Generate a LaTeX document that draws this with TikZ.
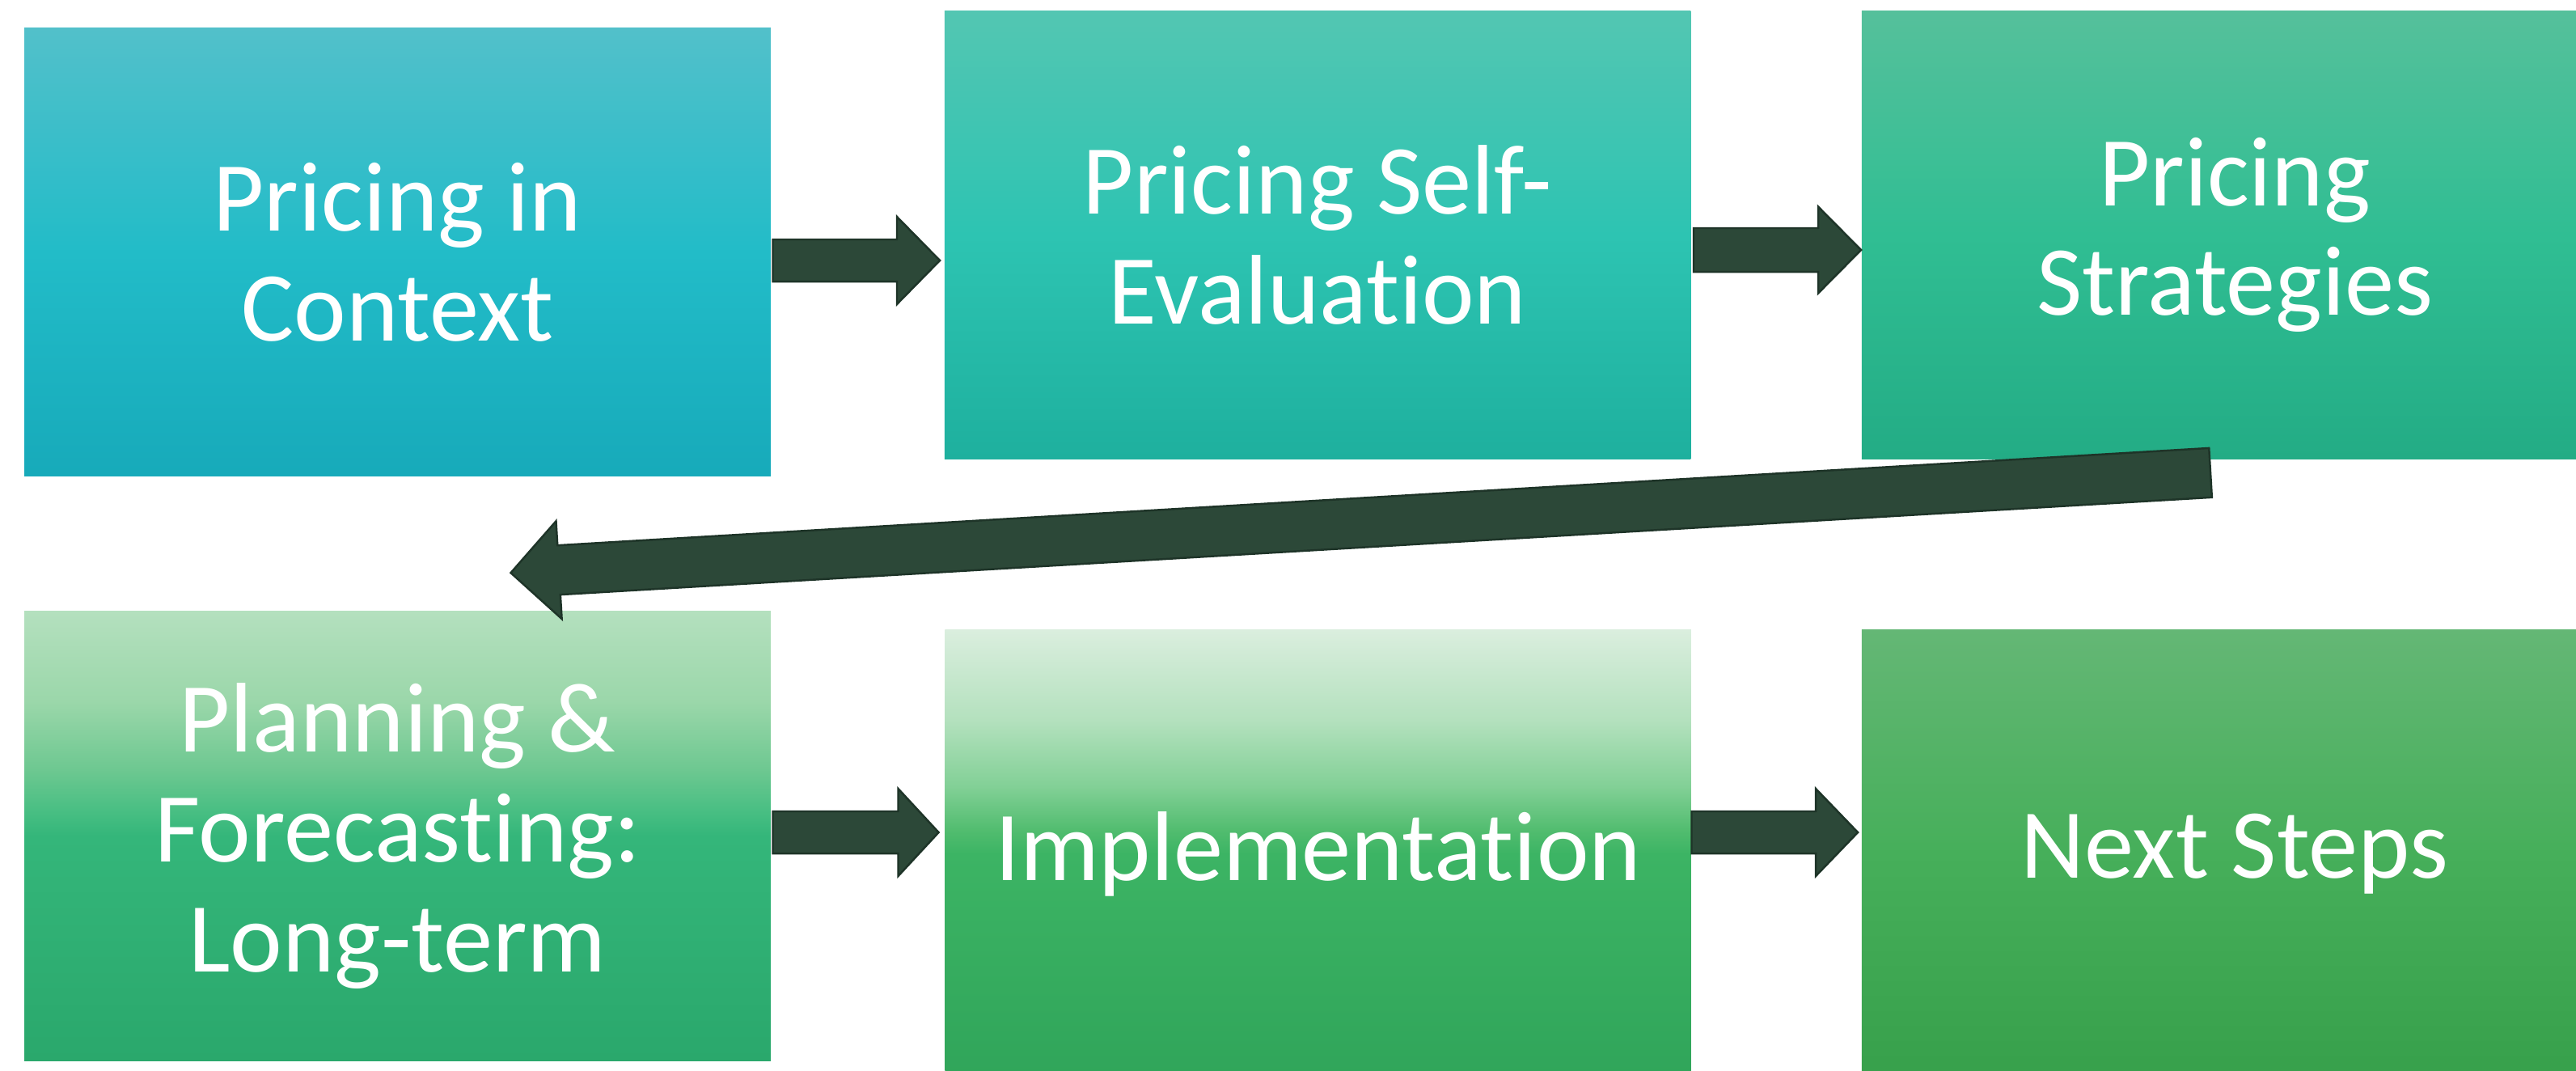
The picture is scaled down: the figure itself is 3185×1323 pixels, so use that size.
\documentclass[tikz,border=0pt]{standalone}
\usepackage{fontspec}
\setmainfont{Carlito}[Ligatures=NoCommon]
\usetikzlibrary{calc}

% box colours (top / middle / bottom)
\definecolor{c1t}{RGB}{82,192,202}\definecolor{c1m}{RGB}{34,188,200}\definecolor{c1b}{RGB}{23,170,186}
\definecolor{c2t}{RGB}{83,198,178}\definecolor{c2m}{RGB}{45,196,178}\definecolor{c2b}{RGB}{30,176,158}
\definecolor{c3t}{RGB}{85,192,155}\definecolor{c3m}{RGB}{48,190,147}\definecolor{c3b}{RGB}{35,172,133}
\definecolor{c4t}{RGB}{180,224,190}\definecolor{c4a}{RGB}{155,215,170}\definecolor{c4c}{RGB}{110,200,145}
\definecolor{c4d}{RGB}{70,190,130}\definecolor{c4m}{RGB}{52,182,122}\definecolor{c4b}{RGB}{42,168,108}
\definecolor{c5t}{RGB}{218,238,222}\definecolor{c5a}{RGB}{180,225,190}\definecolor{c5c}{RGB}{130,208,150}
\definecolor{c5d}{RGB}{80,188,110}\definecolor{c5m}{RGB}{60,180,100}\definecolor{c5b}{RGB}{48,165,90}
\definecolor{c6t}{RGB}{100,183,117}\definecolor{c6m}{RGB}{70,175,90}\definecolor{c6b}{RGB}{55,160,75}
\definecolor{arrowfill}{RGB}{44,72,56}
\definecolor{arrowline}{RGB}{30,52,40}

\pgfdeclareverticalshading{sh1}{100bp}{color(0bp)=(c1b); color(25bp)=(c1b); color(50bp)=(c1m); color(75bp)=(c1t); color(100bp)=(c1t)}
\pgfdeclareverticalshading{sh2}{100bp}{color(0bp)=(c2b); color(25bp)=(c2b); color(50bp)=(c2m); color(75bp)=(c2t); color(100bp)=(c2t)}
\pgfdeclareverticalshading{sh3}{100bp}{color(0bp)=(c3b); color(25bp)=(c3b); color(50bp)=(c3m); color(75bp)=(c3t); color(100bp)=(c3t)}
\pgfdeclareverticalshading{sh4}{100bp}{color(0bp)=(c4b); color(25bp)=(c4b); color(50bp)=(c4m); color(52.5bp)=(c4d); color(57.5bp)=(c4c); color(65bp)=(c4a); color(75bp)=(c4t); color(100bp)=(c4t)}
\pgfdeclareverticalshading{sh5}{100bp}{color(0bp)=(c5b); color(25bp)=(c5b); color(50bp)=(c5m); color(52.5bp)=(c5d); color(57.5bp)=(c5c); color(65bp)=(c5a); color(75bp)=(c5t); color(100bp)=(c5t)}
\pgfdeclareverticalshading{sh6}{100bp}{color(0bp)=(c6b); color(25bp)=(c6b); color(50bp)=(c6m); color(75bp)=(c6t); color(100bp)=(c6t)}

% block arrow: #1 tail, #2 tip, #3 shaft half width, #4 head half width, #5 head length
\newcommand\blockarrow[5]{%
  \coordinate (ba-h) at ($(#2)!#5!(#1)$);
  \draw[arrowshape] ($(#1)!#3!90:(#2)$) -- ($(ba-h)!#3!90:(#2)$) -- ($(ba-h)!#4!90:(#2)$)
    -- (#2) -- ($(ba-h)!#4!-90:(#2)$) -- ($(ba-h)!#3!-90:(#2)$) -- ($(#1)!#3!-90:(#2)$) -- cycle;
}

\begin{document}
\begin{tikzpicture}[x=0.01cm,y=-0.01cm,
  stage/.style={rectangle, inner sep=0pt, minimum width=9.22cm, minimum height=5.53cm,
    text=white, align=center, font=\fontsize{34.8pt}{38.6pt}\selectfont},
  arrowshape/.style={fill=arrowfill, draw=arrowline, line width=0.7pt, line join=miter}]
  \useasboundingbox (0,0) rectangle (3185,1323);
  \clip (0,0) rectangle (3185,1323);
  \fill[white] (0,0) rectangle (3185,1323);

  % stages
  \node[stage, shading=sh1] (b1) at (491.5,311.5) {Pricing in\\Context};
  \node[stage, shading=sh2] (b2) at (1629,290.5) {Pricing Self-\\Evaluation};
  \node[stage, shading=sh3] (b3) at (2763,290.5) {Pricing\\Strategies};
  \node[stage, shading=sh4, minimum height=5.55cm] (b4) at (491.5,1033.5) {Planning \&\\Forecasting:\\Long-term};
  \node[stage, shading=sh5] (b5) at (1629.5,1055.5) {Implementation};
  \node[stage, shading=sh6] (b6) at (2763,1055.5) {Next Steps};

  % arrow end points
  \coordinate (a1s) at ($(b1.east)+(2,10.5)$);
  \coordinate (a1e) at ($(b2.west |- a1s)+(-5,0)$);
  \coordinate (a2s) at ($(b2.east)+(3,18.5)$);
  \coordinate (a2e) at (b3.west |- a2s);
  \coordinate (a3s) at ($(b4.east)+(2,-4.5)$);
  \coordinate (a3e) at ($(b5.west |- a3s)+(-7,0)$);
  \coordinate (a4s) at ($(b5.east)+(0,-26.5)$);
  \coordinate (a4e) at ($(b6.west |- a4s)+(-4,0)$);
  \coordinate (a5s) at ($(b3.south west)+(432,16.5)$);
  \coordinate (a5e) at ($(b4.north west)+(602,-47)$);

  % connectors
  \blockarrow{a1s}{a1e}{0.26cm}{0.54cm}{0.53cm}
  \blockarrow{a2s}{a2e}{0.27cm}{0.535cm}{0.53cm}
  \blockarrow{a3s}{a3e}{0.26cm}{0.54cm}{0.50cm}
  \blockarrow{a4s}{a4e}{0.26cm}{0.54cm}{0.52cm}
  \blockarrow{a5s}{a5e}{0.305cm}{0.605cm}{0.596cm}
\end{tikzpicture}
\end{document}
